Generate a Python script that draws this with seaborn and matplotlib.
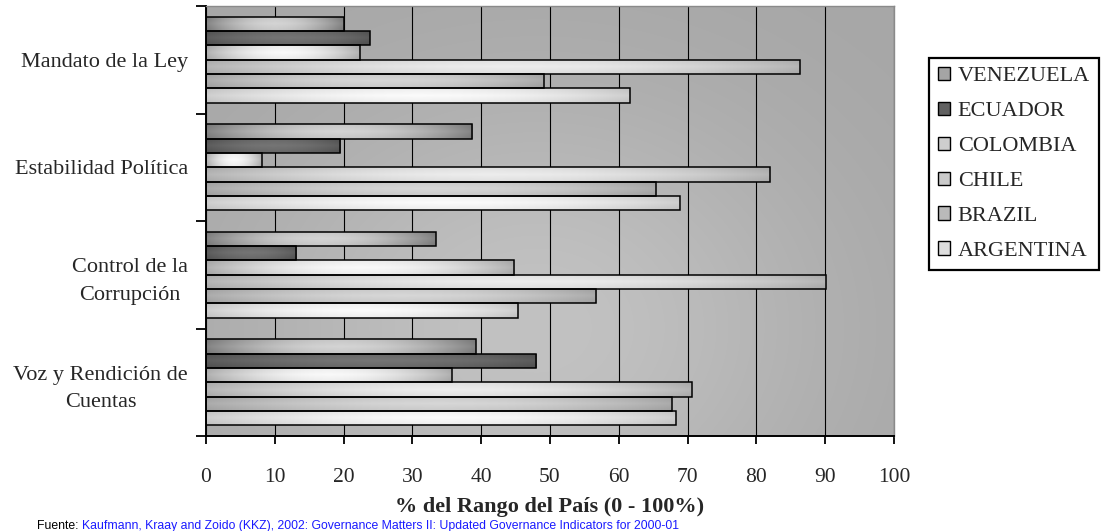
import numpy as np
import pandas as pd
import matplotlib
matplotlib.use("Agg")
import matplotlib.pyplot as plt
from matplotlib.patches import Patch
import seaborn as sns

# ---- data -------------------------------------------------------------
categories = ["Mandato de la Ley", "Estabilidad Política",
              "Control de la\nCorrupción", "Voz y Rendición de\nCuentas"]
countries = ["VENEZUELA", "ECUADOR", "COLOMBIA", "CHILE", "BRAZIL", "ARGENTINA"]
venezuela = [20.0, 38.7, 33.4, 39.2]
ecuador = [23.8, 19.5, 13.1, 48.0]
colombia = [22.4, 8.1, 44.8, 35.7]
chile = [86.3, 82.0, 90.1, 70.6]
brazil = [49.1, 65.4, 56.7, 67.7]
argentina = [61.6, 68.9, 45.3, 68.3]
x_ticks = list(range(0, 101, 10))

series = [venezuela, ecuador, colombia, chile, brazil, argentina]
df = pd.DataFrame(
    [(cat, c, v) for c, vals in zip(countries, series) for cat, v in zip(categories, vals)],
    columns=["indicador", "pais", "valor"],
)

# grey shading per country: (level at bar ends, level at bar middle)
shades = {
    "VENEZUELA": (125, 205),
    "ECUADOR": (85, 110),
    "COLOMBIA": (170, 242),
    "CHILE": (175, 230),
    "BRAZIL": (165, 208),
    "ARGENTINA": (200, 244),
}
legend_fill = {}
for k, (a, b) in shades.items():
    g = (a + b) // 2
    legend_fill[k] = "#{0:02x}{0:02x}{0:02x}".format(g)

# ---- figure ----------------------------------------------------------
sns.set_theme(style="white")
plt.rcParams["font.family"] = ["Liberation Serif", "DejaVu Serif"]

W, H = 1103, 531
fig = plt.figure(figsize=(W / 100, H / 100), dpi=100)
ax = fig.add_axes([206 / W, 1 - 436 / H, (894 - 206) / W, (436 - 6) / H])

sns.barplot(data=df, y="indicador", x="valor", hue="pais", order=categories,
            hue_order=countries, orient="h", width=0.8, dodge=True,
            palette=legend_fill, saturation=1, edgecolor="black",
            linewidth=1.1, legend=False, ax=ax)

ax.set_xlim(0, 100)
ax.set_ylim(3.5, -0.5)

# plot-area background: soft grey wash, lighter towards the lower middle
gx = np.linspace(0, 1, 300)
gy = np.linspace(0, 1, 150)
XX, YY = np.meshgrid(gx, gy)
bg = 166 + 28 * np.exp(-((XX - 0.48) / 0.42) ** 2) * np.exp(-((YY - 0.75) / 0.55) ** 2)
bg_rgb = np.repeat((bg / 255.0)[:, :, None], 3, axis=2)
ax.imshow(bg_rgb, extent=(0, 100, 3.5, -0.5), aspect="auto", zorder=0,
          interpolation="bilinear")

# shaded fill for every bar, clipped to the bar outline
t = np.linspace(0, 1, 200)
s = np.linspace(0, 1, 24)
T, S = np.meshgrid(t, s)
for container, country in zip(ax.containers, countries):
    lo, hi = shades[country]
    grad = lo + (hi - lo) * np.sin(np.pi * T) ** 0.9
    grad = grad + 14 * (1 - np.abs(2 * S - 1)) - 7
    grad = np.clip(grad, 0, 255) / 255.0
    rgb = np.repeat(grad[:, :, None], 3, axis=2)
    for bar in container:
        x0, y0 = bar.get_x(), bar.get_y()
        w, h = bar.get_width(), bar.get_height()
        im = ax.imshow(rgb, extent=(x0, x0 + w, y0 + h, y0), aspect="auto",
                       zorder=2.5, interpolation="bilinear")
        im.set_clip_path(bar)
        bar.set_facecolor("none")
        bar.set_zorder(3)

ax.set_xlim(0, 100)
ax.set_ylim(3.5, -0.5)

# vertical grid lines
ax.set_xticks(x_ticks)
ax.xaxis.grid(True, color="black", linewidth=0.8)
ax.yaxis.grid(False)
ax.set_axisbelow(True)
for gl in ax.get_xgridlines():
    gl.set_zorder(0.5)

# category ticks at band boundaries, labels at band centres
ax.set_yticks(np.arange(-0.5, 4.0, 1.0))
ax.set_yticklabels([])
ax.set_yticks(range(len(categories)), minor=True)
ax.set_yticklabels(categories, minor=True, fontsize=16, linespacing=1.6,
                   multialignment="center")
ax.tick_params(axis="y", which="major", direction="out", length=7, width=1.3,
               color="black", left=True)
ax.tick_params(axis="y", which="minor", length=0, pad=13)
ax.tick_params(axis="x", direction="out", length=6, width=1.3, color="black",
               bottom=True, labelsize=15.5, pad=17)

for side in ("left", "bottom"):
    ax.spines[side].set_color("black")
    ax.spines[side].set_linewidth(1.4)
for side in ("top", "right"):
    ax.spines[side].set_color("#8a8a8a")
    ax.spines[side].set_linewidth(1.0)

ax.set_ylabel("")
ax.set_xlabel("% del Rango del País (0 - 100%)", fontsize=16, fontweight="bold",
              labelpad=7)

# legend
handles = [Patch(facecolor=legend_fill[c], edgecolor="black", linewidth=1.0, label=c)
           for c in countries]
leg = fig.legend(handles=handles, loc="upper right",
                 bbox_to_anchor=(1099 / W, 1 - 58 / H), frameon=True,
                 fancybox=False, framealpha=1, edgecolor="black",
                 fontsize=16, handlelength=0.55, handleheight=0.55,
                 handletextpad=0.35, labelspacing=0.69, borderpad=0.4,
                 borderaxespad=0)
leg.get_frame().set_linewidth(1.6)

# source line
src_y = 1 - 520 / H
t1 = fig.text(37 / W, src_y, "Fuente: ", fontsize=8.8, color="black",
              family=["Liberation Sans", "DejaVu Sans"], va="top", ha="left")
fig.canvas.draw()
bb = t1.get_window_extent(renderer=fig.canvas.get_renderer())
fig.text(bb.x1 / W, src_y,
         "Kaufmann, Kraay and Zoido (KKZ), 2002: Governance Matters II: "
         "Updated Governance Indicators for 2000-01",
         fontsize=8.8, color="#1a1aff", family=["Liberation Sans", "DejaVu Sans"],
         va="top", ha="left")

fig.savefig("out.png", dpi=100, facecolor="white")
